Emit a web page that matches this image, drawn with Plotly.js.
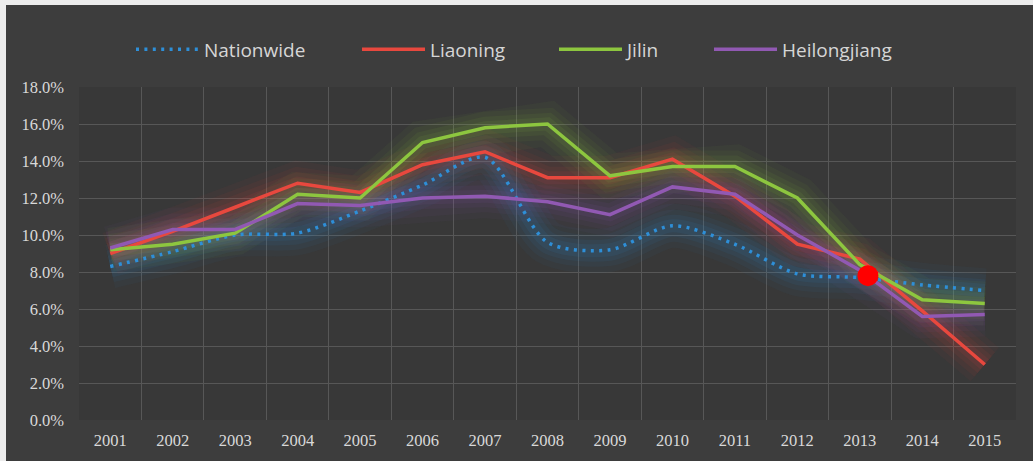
<!DOCTYPE html>
<html>
<head>
<meta charset="utf-8">
<script src="https://cdn.plot.ly/plotly-3.0.1.min.js"></script>
<style>
html,body{margin:0;padding:0;background:#ececec;}
#chart{position:absolute;left:6px;top:5px;width:1027px;height:456px;}
</style>
</head>
<body>
<div id="chart"></div>
<script>
const years = ['2001','2002','2003','2004','2005','2006','2007','2008','2009','2010','2011','2012','2013','2014','2015'];
const nationwide   = [8.3, 9.1, 10.0, 10.1, 11.3, 12.7, 14.2, 9.6, 9.2, 10.5, 9.5, 7.9, 7.7, 7.3, 7.0];
const liaoning     = [9.0, 10.2, 11.5, 12.8, 12.3, 13.8, 14.5, 13.1, 13.1, 14.1, 12.1, 9.5, 8.7, 5.9, 3.0];
const jilin        = [9.2, 9.5, 10.1, 12.2, 12.0, 15.0, 15.8, 16.0, 13.2, 13.7, 13.7, 12.0, 8.4, 6.5, 6.3];
const heilongjiang = [9.3, 10.3, 10.3, 11.7, 11.6, 12.0, 12.1, 11.8, 11.1, 12.6, 12.2, 10.0, 8.1, 5.6, 5.7];
// highlighted crossing point (just right of 2013)
const highlightX = [2013.13];
const highlightValue = [7.8];
const seriesNames = ['Nationwide', 'Liaoning', 'Jilin', 'Heilongjiang'];
const yTicks = [0, 2, 4, 6, 8, 10, 12, 14, 16, 18];

const series = [nationwide, liaoning, jilin, heilongjiang];
const colors = ['#2e8fd8', '#e8483e', '#8dc63f', '#9159b3'];
const glowColors = ['rgba(46,143,216,', 'rgba(232,72,62,', 'rgba(141,198,63,', 'rgba(145,89,179,'];
const shapes = ['spline', 'linear', 'linear', 'linear'];

const traces = [];
// glow layers
series.forEach((s, i) => {
  [[44, 0.045], [32, 0.055], [22, 0.07], [13, 0.09]].forEach(([w, a]) => {
    traces.push({
      x: years, y: s, type: 'scatter', mode: 'lines',
      line: {color: glowColors[i] + a + ')', width: w, shape: shapes[i], smoothing: 0.8},
      showlegend: false, hoverinfo: 'skip'
    });
  });
});
// main lines
series.forEach((s, i) => {
  traces.push({
    x: years, y: s, type: 'scatter', mode: 'lines', name: seriesNames[i],
    line: {color: colors[i], width: 3.5, shape: shapes[i], smoothing: 0.8,
           dash: i === 0 ? '3px,5.4px' : 'solid'},
    legend: i === 0 ? 'legend' : 'legend' + (i + 1)
  });
});
traces.push({
  x: highlightX, y: highlightValue, type: 'scatter', mode: 'markers', xaxis: 'x2', yaxis: 'y',
  marker: {color: '#ff0000', size: 21}, showlegend: false, hoverinfo: 'skip'
});

const legendFont = {family: 'Open Sans, sans-serif', size: 19, color: '#d6d6d6'};
function mkLegend(x) {
  return {x: x, xanchor: 'left', y: 1.113, yanchor: 'middle', orientation: 'h',
          bgcolor: 'rgba(0,0,0,0)', font: legendFont, itemwidth: 63, borderwidth: 0};
}
const plotLeft = 73, plotW = 937;
const legendStarts = [131, 357, 554, 709];
const lx = legendStarts.map(p => (p - 6 - plotLeft) / plotW);
const tickFont = {family: 'Liberation Serif, Times New Roman, serif', size: 16.5, color: '#d9d9d9'};

const layout = {
  width: 1027, height: 456,
  paper_bgcolor: '#3d3d3d', plot_bgcolor: '#383838',
  margin: {l: plotLeft, r: 1027 - plotLeft - plotW, t: 82, b: 41},
  xaxis: {
    type: 'category', range: [-0.5, years.length - 0.5], tickson: 'boundaries',
    showgrid: true, gridcolor: '#575757', gridwidth: 1,
    ticks: '', showline: false, zeroline: false,
    tickfont: tickFont, ticklabelstandoff: 8, fixedrange: true
  },
  xaxis2: {
    overlaying: 'x', type: 'linear', range: [2000.5, 2015.5], visible: false, fixedrange: true
  },
  yaxis: {
    range: [0, 18], tickvals: yTicks, ticktext: yTicks.map(v => v.toFixed(1) + '%'),
    showgrid: true, gridcolor: '#575757', gridwidth: 1, zeroline: false, showline: false, ticks: '',
    tickfont: tickFont, ticklabelstandoff: 14, fixedrange: true
  },
  legend: mkLegend(lx[0]),
  legend2: mkLegend(lx[1]),
  legend3: mkLegend(lx[2]),
  legend4: mkLegend(lx[3]),
  showlegend: true
};

Plotly.newPlot('chart', traces, layout, {displayModeBar: false, staticPlot: true});
</script>
</body>
</html>
